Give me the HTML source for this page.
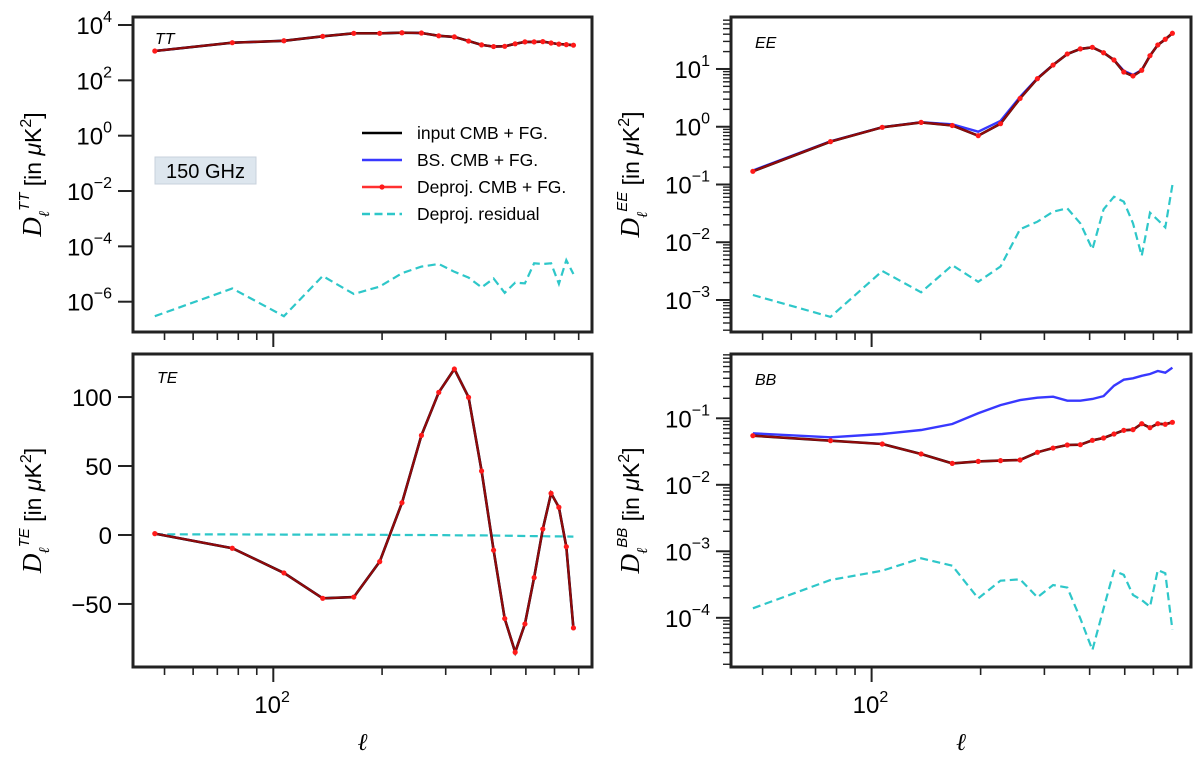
<!DOCTYPE html>
<html><head><meta charset="utf-8"><style>
body{margin:0;background:#fff}
svg{display:block;font-family:"Liberation Sans",sans-serif}
</style></head><body>
<svg id="fig" width="1200" height="764" viewBox="0 0 1200 764"></svg>
<script>
const ell = [47,77,107,137,167,197,227,257,287,317,347,377,407,437,467,497,527,557,587,617,647,677];
const ttInput = [1150,2290,2690,3890,5010,5010,5250,5130,4070,3720,2630,1910,1660,1700,2090,2450,2450,2510,2240,2040,1950,1860];
const ttResid = [3.0e-7,3.0e-6,3.0e-7,8.5e-6,1.9e-6,3.5e-6,1.07e-5,1.86e-5,2.3e-5,1.2e-5,7.4e-6,3.3e-6,6.9e-6,2.1e-6,4.9e-6,4.6e-6,2.45e-5,2.3e-5,2.45e-5,4.4e-6,3.2e-5,1.0e-5];
const eeInput = [0.169,0.552,0.977,1.19,1.05,0.70,1.13,3.09,6.8,11.7,18.2,22.3,23.7,19.1,14.3,8.87,7.57,9.5,17,26.1,32.7,41.5];
const eeBS = [0.175,0.56,0.98,1.2,1.1,0.82,1.26,3.3,6.9,11.8,18.2,22.3,23.7,19.1,14.3,9.3,7.9,9.6,17,26.1,32.7,41.5];
const eeResid = [1.22e-3,5.1e-4,3.18e-3,1.36e-3,4.0e-3,2.07e-3,3.8e-3,0.0168,0.0227,0.0338,0.0387,0.0213,7.55e-3,0.0372,0.0615,0.0504,0.0213,5.8e-3,0.0325,0.0243,0.0181,0.098];
const teInput = [1,-9.6,-27.5,-45.9,-45,-19.3,23.4,72.2,103.4,120.3,99.8,46.4,-11,-60.6,-85,-64.5,-30.9,4.3,30.2,20.1,-8.5,-67.4];
const teResid = [0.5,0.4,0.3,0.3,0.2,0.1,0,0,-0.1,-0.2,-0.3,-0.3,-0.4,-0.5,-0.6,-0.7,-0.8,-0.9,-1.0,-1.0,-1.1,-1.2];
const bbInput = [0.0548,0.0461,0.0411,0.0291,0.0210,0.0225,0.0231,0.0236,0.0308,0.0357,0.0397,0.0401,0.0467,0.0506,0.0581,0.0659,0.0675,0.0830,0.0723,0.0830,0.0813,0.0871];
const bbBS = [0.0594,0.0518,0.0581,0.0667,0.082,0.119,0.158,0.188,0.204,0.211,0.184,0.184,0.195,0.216,0.309,0.380,0.399,0.436,0.463,0.514,0.485,0.577];
const bbResid = [1.39e-4,3.70e-4,5.1e-4,7.85e-4,6.08e-4,1.96e-4,3.61e-4,3.79e-4,2.03e-4,3.11e-4,2.84e-4,9.8e-5,3.28e-5,1.39e-4,5.1e-4,4.41e-4,2.2e-4,1.85e-4,1.47e-4,5.24e-4,4.67e-4,6.6e-5];
const ttMajor = [4,2,0,-2,-4,-6];
const eeMajor = [1,0,-1,-2,-3];
const bbMajor = [-1,-2,-3,-4];
const teTicks = [100,50,0,-50];

const NS='http://www.w3.org/2000/svg';
const svg=document.getElementById('fig');
function mk(tag,attrs,parent){const e=document.createElementNS(NS,tag);for(const k in attrs)e.setAttribute(k,attrs[k]);(parent||svg).appendChild(e);return e;}

const LMIN=Math.log10(40.9), LMAX=Math.log10(762);
function panel(cfg){
  const g=mk('g',{});
  
  
  const {x0,x1,y0,y1}=cfg;
  const xs=l=>x0+(Math.log10(l)-LMIN)/(LMAX-LMIN)*(x1-x0);
  const ys=v=>{const t=cfg.log?Math.log10(v):v;return y1-(t-cfg.ymin)/(cfg.ymax-cfg.ymin)*(y1-y0);};
  for(let l=50;l<=700;l+= (l<100?10:100)){
    const X=xs(l);const major=(l===100);
    const t=mk('line',{x1:X,x2:X,y1:y1,y2:y1+(major?15:8),stroke:'#222','stroke-width':major?2:1.6},g);
    
    
  }
  if(cfg.xlabels){
    const X=xs(100);
    const t=mk('text',{x:X-19,y:713,'font-size':24},g);
    t.textContent='10';
    
    
    const s=mk('tspan',{dy:-11,'font-size':16},t);s.textContent='2';
    const xl=mk('text',{x:(x0+x1)/2,y:750,'font-size':24,'text-anchor':'middle','font-style':'italic','font-family':'Liberation Serif, serif'},g);
    xl.textContent='ℓ';
    
    
  }
  if(cfg.log){
    cfg.major.forEach(p=>{
      const Y=ys(Math.pow(10,p));
      const t=mk('line',{x1:x0-15,x2:x0,y1:Y,y2:Y,stroke:'#222','stroke-width':2},g);
      
      
      const lb=mk('text',{x:x0-21,y:Y+9,'font-size':24,'text-anchor':'end'},g);
      
      
      const a=mk('tspan',{},lb);a.textContent='10';
      const b=mk('tspan',{dy:-12,'font-size':16},lb);b.textContent=(p<0?'−'+(-p):''+p);
    });
    if(cfg.minor){
      for(let d=Math.floor(cfg.ymin);d<=Math.ceil(cfg.ymax);d++){
        for(let m=2;m<=9;m++){const lv=d+Math.log10(m);if(lv<cfg.ymin||lv>cfg.ymax)continue;
          const Y=ys(Math.pow(10,lv));
          const t=mk('line',{x1:x0-8,x2:x0,y1:Y,y2:Y,stroke:'#222','stroke-width':1.4},g);
          
          }
      }
    }
  } else {
    cfg.ticks.forEach(v=>{
      const Y=ys(v);
      const t=mk('line',{x1:x0-15,x2:x0,y1:Y,y2:Y,stroke:'#222','stroke-width':2},g);
      
      
      const lb=mk('text',{x:x0-21,y:Y+9,'font-size':24,'text-anchor':'end'},g);
      lb.textContent=v<0?'−'+(-v):''+v;
      
      
    });
  }
  const yt=mk('text',{transform:`translate(${x0-92},${(y0+y1)/2}) rotate(-90)`,'font-size':23,'text-anchor':'middle'},g);
  
  
  const d1=mk('tspan',{'font-style':'italic','font-family':'Liberation Serif, serif','font-size':27},yt);d1.textContent='D';
  const d2=mk('tspan',{dy:8,'font-size':15,'font-style':'italic','font-family':'Liberation Serif, serif'},yt);d2.textContent='ℓ';
  const d3=mk('tspan',{dy:-20,'font-size':15,'font-style':'italic'},yt);d3.textContent=cfg.name.toUpperCase();
  const d4=mk('tspan',{dy:12},yt);d4.textContent=' [in ';
  const d5=mk('tspan',{'font-style':'italic'},yt);d5.textContent='μ';
  const d6=mk('tspan',{},yt);d6.textContent='K';
  const d7=mk('tspan',{dy:-10,'font-size':16},yt);d7.textContent='2';
  const d8=mk('tspan',{dy:10},yt);d8.textContent=']';
  const path=arr=>arr.map((v,i)=>(i?'L':'M')+xs(ell[i]).toFixed(1)+','+ys(v).toFixed(1)).join(' ');
  const cp=mk('clipPath',{id:'clip-'+cfg.name},g);mk('rect',{x:x0,y:y0,width:x1-x0,height:y1-y0},cp);
  const sg=mk('g',{'clip-path':`url(#clip-${cfg.name})`},g);
  const r=mk('path',{d:path(cfg.resid),fill:'none',stroke:'#2ec7c9','stroke-width':2.2,'stroke-dasharray':'8,4.5'},sg);
  
  
  const b=mk('path',{d:path(cfg.bs),fill:'none',stroke:'#3838ff','stroke-width':2.4},sg);
  
  
  const k=mk('path',{d:path(cfg.input),fill:'none',stroke:'#000','stroke-width':2.6},sg);
  
  
  const rd=mk('path',{d:path(cfg.input),fill:'none',stroke:'#e01010','stroke-width':2.2,'stroke-opacity':0.65},sg);
  
  
  cfg.input.forEach((v,i)=>{const c=mk('circle',{cx:xs(ell[i]),cy:ys(v),r:2.6,fill:'#ff1a1a'},sg);
    
    });
  const fr=mk('rect',{x:x0,y:y0,width:x1-x0,height:y1-y0,fill:'none',stroke:'#222','stroke-width':3},g);
  
  
  const lab=mk('text',{x:cfg.lx,y:cfg.ly,'font-size':16,'font-style':'italic'},g);
  lab.textContent=cfg.name.toUpperCase();
  
  
  return g;
}
panel({name:'tt',x0:133,x1:592,y0:17,y1:332,log:true,ymin:-7.095,ymax:4.289,major:ttMajor,minor:false,input:ttInput,bs:ttInput,resid:ttResid,lx:155,ly:44});
panel({name:'ee',x0:731,x1:1191,y0:17,y1:332,log:true,ymin:-3.554,ymax:1.9,major:eeMajor,minor:true,input:eeInput,bs:eeBS,resid:eeResid,lx:755,ly:48});
panel({name:'te',x0:133,x1:592,y0:354,y1:667,log:false,ymin:-95.7,ymax:131.2,ticks:teTicks,input:teInput,bs:teInput,resid:teResid,lx:157,ly:383,xlabels:true});
panel({name:'bb',x0:731,x1:1191,y0:354,y1:667,log:true,ymin:-4.74,ymax:-0.033,major:bbMajor,minor:true,input:bbInput,bs:bbBS,resid:bbResid,lx:755,ly:385,xlabels:true});

const lg=mk('g',{});


const items=[['input CMB + FG.','#000',false,false],['BS. CMB + FG.','#3838ff',false,false],['Deproj. CMB + FG.','#ff3030',true,false],['Deproj. residual','#2ec7c9',false,true]];
items.forEach((it,i)=>{
  const y=133+i*27;
  const ln=mk('line',{x1:362,x2:402,y1:y,y2:y,stroke:it[1],'stroke-width':2.4,'stroke-dasharray':it[3]?'8,4.5':'none'},lg);
  
  
  if(it[2]){mk('circle',{cx:382,cy:y,r:2.6,fill:'#ff1a1a'},lg);}
  const t=mk('text',{x:417,y:y+6,'font-size':17.5},lg);t.textContent=it[0];
  
  
});
const bx=mk('rect',{x:155,y:157,width:101,height:27,fill:'#dde6ee',stroke:'#c8d2dc','stroke-width':1},lg);


const ft=mk('text',{x:205.5,y:178,'font-size':20,'text-anchor':'middle'},lg);ft.textContent='150 GHz';


</script>
</body></html>
